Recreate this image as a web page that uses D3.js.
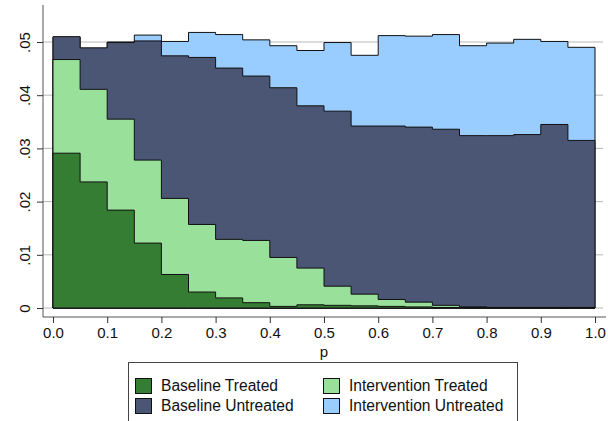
<!DOCTYPE html>
<html>
<head>
<meta charset="utf-8">
<script src="https://cdn.jsdelivr.net/npm/d3@7"></script>
<style>
body { margin: 0; background: #fff; }
text { font-family: "Liberation Sans", Arial, sans-serif; fill: #111; }
</style>
</head>
<body>
<script>
var width = 608, height = 421;
//Bin starts for p, width 0.05.
var binStarts = d3.range(20).map(function(i) { return i * 0.05; });
var binWidth = 0.05;
var seriesNames = ['Baseline Treated', 'Intervention Treated', 'Baseline Untreated', 'Intervention Untreated'];
var baselineTreated = [0.0291, 0.0237, 0.0184, 0.0122, 0.0063, 0.0030, 0.0019, 0.0010, 0.0003, 0.0006,
	0.0005, 0.0004, 0.0003, 0.0002, 0.0001, 0.0001, 0.0000, 0.0000, 0.0000, 0.0000];
var interventionTreated = [0.0467, 0.0411, 0.0355, 0.0278, 0.0206, 0.0157, 0.0129, 0.0127, 0.0095, 0.0075,
	0.0041, 0.0026, 0.0016, 0.0011, 0.0005, 0.0002, 0.0001, 0.0001, 0.0001, 0.0001];
var baselineUntreated = [0.0510, 0.0489, 0.0499, 0.0502, 0.0474, 0.0471, 0.0451, 0.0436, 0.0414, 0.0380,
	0.0370, 0.0342, 0.0342, 0.0340, 0.0336, 0.0324, 0.0324, 0.0326, 0.0345, 0.0315];
var interventionUntreated = [0.0509, 0.0488, 0.0500, 0.0513, 0.0501, 0.0518, 0.0514, 0.0504, 0.0493, 0.0484,
	0.0499, 0.0475, 0.0512, 0.0511, 0.0514, 0.0493, 0.0498, 0.0505, 0.0501, 0.0490];
var xTicks = [0, 0.1, 0.2, 0.3, 0.4, 0.5, 0.6, 0.7, 0.8, 0.9, 1.0];
var yTicks = [0, 0.01, 0.02, 0.03, 0.04, 0.05];
var colors = {'Baseline Treated': '#357d33', 'Intervention Treated': '#99e09a',
	'Baseline Untreated': '#4b5574', 'Intervention Untreated': '#99ccff'};

var svg = d3.select('body').append('svg')
	.attr('width', width)
	.attr('height', height);

var xScale = d3.scaleLinear().domain([0, 1]).range([53, 595]);
var yScale = d3.scaleLinear().domain([0, 0.05]).range([308, 42]);
var axisLeftX = 43, axisBottomY = 317, gridRight = 603;

//Gridlines behind the bars.
svg.append('g').selectAll('line').data(yTicks).enter().append('line')
	.attr('x1', axisLeftX).attr('x2', gridRight)
	.attr('y1', function(d) { return yScale(d); })
	.attr('y2', function(d) { return yScale(d); })
	.style('stroke', '#b8b8b8').style('stroke-width', 1);

//Overlaid step histograms, back to front.
var layers = [
	{name: 'Intervention Untreated', values: interventionUntreated},
	{name: 'Baseline Untreated', values: baselineUntreated},
	{name: 'Intervention Treated', values: interventionTreated},
	{name: 'Baseline Treated', values: baselineTreated}
];
function stepPoints(values) {
	var pts = values.map(function(v, i) { return [binStarts[i], v]; });
	pts.push([binStarts[values.length - 1] + binWidth, values[values.length - 1]]);
	return pts;
}
var area = d3.area()
	.curve(d3.curveStepAfter)
	.x(function(d) { return xScale(d[0]); })
	.y0(yScale(0))
	.y1(function(d) { return yScale(d[1]); });
svg.append('g').selectAll('path').data(layers).enter().append('path')
	.attr('d', function(d) { return area(stepPoints(d.values)); })
	.style('fill', function(d) { return colors[d.name]; })
	.style('stroke', '#111')
	.style('stroke-width', 1)
	.style('stroke-linejoin', 'miter');

//Axes.
var yAxis = svg.append('g')
	.attr('transform', 'translate(' + axisLeftX + ',0)')
	.call(d3.axisLeft(yScale).tickValues(yTicks).tickSize(6).tickSizeOuter(0)
		.tickFormat(function(d) { return d === 0 ? '0' : d3.format('.2f')(d).replace(/^0/, ''); }));
yAxis.select('.domain').attr('d', 'M0,5V' + axisBottomY).style('stroke', '#555');
yAxis.selectAll('.tick line').style('stroke', '#333');
yAxis.selectAll('.tick text')
	.attr('x', 0).attr('dy', 0)
	.attr('transform', 'translate(-13,0) rotate(-90)')
	.attr('text-anchor', 'middle')
	.style('font-size', '15px');

var xAxis = svg.append('g')
	.attr('transform', 'translate(0,' + axisBottomY + ')')
	.call(d3.axisBottom(xScale).tickValues(xTicks).tickSize(6).tickSizeOuter(0)
		.tickFormat(d3.format('.1f')));
xAxis.select('.domain').attr('d', 'M' + axisLeftX + ',0H' + 606).style('stroke', '#555');
xAxis.selectAll('.tick line').style('stroke', '#333');
xAxis.selectAll('.tick text').attr('y', 10.5).style('font-size', '15px');

svg.append('text')
	.attr('x', xScale(0.5)).attr('y', 357)
	.attr('text-anchor', 'middle')
	.style('font-size', '15px')
	.text('p');

//Legend, two columns.
var legend = svg.append('g');
legend.append('rect')
	.attr('x', 128.5).attr('y', 362.5)
	.attr('width', 389).attr('height', 70)
	.style('fill', '#fff').style('stroke', '#444').style('stroke-width', 1);
var legendItems = [
	{name: 'Baseline Treated', col: 0, row: 0},
	{name: 'Intervention Treated', col: 1, row: 0},
	{name: 'Baseline Untreated', col: 0, row: 1},
	{name: 'Intervention Untreated', col: 1, row: 1}
];
var item = legend.selectAll('.item').data(legendItems).enter().append('g')
	.attr('class', 'item')
	.attr('transform', function(d) { return 'translate(' + (135 + d.col * 188) + ',' + (378 + d.row * 20) + ')'; });
item.append('rect')
	.attr('x', 0.5).attr('y', 0.5).attr('width', 16).attr('height', 15)
	.style('fill', function(d) { return colors[d.name]; })
	.style('stroke', '#111');
item.append('text')
	.attr('x', 26).attr('y', 13)
	.style('font-size', '15.6px')
	.text(function(d) { return d.name; });
</script>
</body>
</html>
